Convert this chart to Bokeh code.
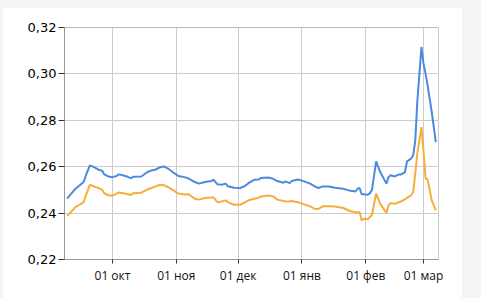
from datetime import datetime
import pandas as pd
from bokeh.plotting import figure
from bokeh.models import Range1d, FixedTicker, CustomJSTickFormatter, Span, ColumnDataSource
from bokeh.layouts import column
from bokeh.embed import file_html
from bokeh.resources import INLINE

dates = [
    "2022-09-09", "2022-09-11", "2022-09-13", "2022-09-15", "2022-09-17", "2022-09-18",
    "2022-09-20", "2022-09-22", "2022-09-24", "2022-09-26", "2022-09-27", "2022-09-29",
    "2022-10-01", "2022-10-03", "2022-10-04", "2022-10-06", "2022-10-08", "2022-10-10",
    "2022-10-11", "2022-10-15", "2022-10-18", "2022-10-20", "2022-10-22", "2022-10-24",
    "2022-10-26", "2022-10-28", "2022-10-31", "2022-11-02", "2022-11-05", "2022-11-07",
    "2022-11-10", "2022-11-12", "2022-11-15", "2022-11-18", "2022-11-19", "2022-11-21",
    "2022-11-23", "2022-11-25", "2022-11-26", "2022-11-29", "2022-12-02", "2022-12-04",
    "2022-12-06", "2022-12-09", "2022-12-11", "2022-12-12", "2022-12-16", "2022-12-18",
    "2022-12-20", "2022-12-23", "2022-12-24", "2022-12-26", "2022-12-27", "2022-12-30",
    "2023-01-01", "2023-01-05", "2023-01-07", "2023-01-09", "2023-01-11", "2023-01-14",
    "2023-01-17", "2023-01-21", "2023-01-24", "2023-01-27", "2023-01-28", "2023-01-29",
    "2023-01-30", "2023-01-31", "2023-02-02", "2023-02-03", "2023-02-04", "2023-02-06",
    "2023-02-08", "2023-02-11", "2023-02-12", "2023-02-13", "2023-02-15", "2023-02-17",
    "2023-02-18", "2023-02-20", "2023-02-21", "2023-02-23", "2023-02-24", "2023-02-25",
    "2023-02-26", "2023-02-28", "2023-03-01", "2023-03-02", "2023-03-03", "2023-03-05",
    "2023-03-07",
]

blue_values = [
    0.2462, 0.2484, 0.2505, 0.2519, 0.2534, 0.2560,
    0.2606, 0.2598, 0.2588, 0.2582, 0.2567, 0.2558,
    0.2555, 0.2560, 0.2567, 0.2563, 0.2558, 0.2550,
    0.2557, 0.2558, 0.2577, 0.2584, 0.2588, 0.2597,
    0.2601, 0.2592, 0.2572, 0.2560, 0.2555, 0.2549,
    0.2534, 0.2527, 0.2534, 0.2538, 0.2544, 0.2524,
    0.2522, 0.2527, 0.2516, 0.2509, 0.2508, 0.2515,
    0.2529, 0.2544, 0.2545, 0.2551, 0.2553, 0.2548,
    0.2538, 0.2531, 0.2537, 0.2529, 0.2538, 0.2545,
    0.2540, 0.2527, 0.2516, 0.2508, 0.2515, 0.2515,
    0.2509, 0.2505, 0.2497, 0.2493, 0.2505, 0.2508,
    0.2481, 0.2481, 0.2479, 0.2486, 0.2500, 0.2623,
    0.2577, 0.2527, 0.2555, 0.2563, 0.2558, 0.2566,
    0.2566, 0.2577, 0.2623, 0.2635, 0.2649, 0.2710,
    0.2880, 0.3116, 0.3045, 0.3001, 0.2951, 0.2836,
    0.2706,
]

orange_values = [
    0.2388, 0.2406, 0.2426, 0.2436, 0.2447, 0.2474,
    0.2522, 0.2515, 0.2508, 0.2501, 0.2486, 0.2477,
    0.2475, 0.2484, 0.2489, 0.2486, 0.2482, 0.2478,
    0.2486, 0.2488, 0.2502, 0.2508, 0.2515, 0.2522,
    0.2520, 0.2512, 0.2496, 0.2484, 0.2480, 0.2481,
    0.2462, 0.2458, 0.2465, 0.2467, 0.2468, 0.2447,
    0.2450, 0.2455, 0.2447, 0.2436, 0.2436, 0.2445,
    0.2455, 0.2462, 0.2466, 0.2472, 0.2476, 0.2472,
    0.2458, 0.2452, 0.2451, 0.2450, 0.2452, 0.2447,
    0.2441, 0.2429, 0.2419, 0.2418, 0.2429, 0.2429,
    0.2428, 0.2422, 0.2410, 0.2404, 0.2404, 0.2404,
    0.2368, 0.2376, 0.2374, 0.2383, 0.2392, 0.2484,
    0.2440, 0.2401, 0.2433, 0.2443, 0.2440, 0.2447,
    0.2450, 0.2459, 0.2466, 0.2476, 0.2491, 0.2570,
    0.2656, 0.2771, 0.2670, 0.2550, 0.2545, 0.2455,
    0.2412,
]

x_tick_dates = ["2022-10-01", "2022-11-01", "2022-12-01", "2023-01-01", "2023-02-01", "2023-03-01"]
x_tick_labels = ["01 окт", "01 ноя", "01 дек", "01 янв", "01 фев", "01 мар"]
y_ticks = [0.22, 0.24, 0.26, 0.28, 0.30, 0.32]
y_tick_labels = ["0,22", "0,24", "0,26", "0,28", "0,30", "0,32"]

x = pd.to_datetime(dates)
src = ColumnDataSource(dict(x=x, blue=blue_values, orange=orange_values))

p = figure(
    width=460, height=291,
    x_axis_type="datetime",
    x_range=Range1d(datetime(2022, 9, 7, 17), datetime(2023, 3, 8, 7)),
    y_range=Range1d(0.22, 0.32),
    output_backend="svg", toolbar_location=None,
    min_border_left=62, min_border_right=24, min_border_top=20, min_border_bottom=39,
    background_fill_color="white", border_fill_color="white",
    margin=(7, 19, 0, 2),
)

x_tick_ms = [int(pd.Timestamp(d).value // 10**6) for d in x_tick_dates]
p.xaxis.ticker = FixedTicker(ticks=x_tick_ms)
p.xaxis.formatter = CustomJSTickFormatter(
    args=dict(vals=x_tick_ms, labs=x_tick_labels),
    code="const i = vals.findIndex(v => Math.abs(v - tick) < 1000); return i >= 0 ? labs[i] : '';",
)
p.yaxis.ticker = FixedTicker(ticks=y_ticks)
p.yaxis.formatter = CustomJSTickFormatter(
    args=dict(vals=y_ticks, labs=y_tick_labels),
    code="const i = vals.findIndex(v => Math.abs(v - tick) < 1e-9); return i >= 0 ? labs[i] : '';",
)

p.xgrid.grid_line_color = "#cccccc"
p.ygrid.grid_line_color = "#cccccc"
p.outline_line_color = "#cccccc"

for ax in (p.xaxis[0], p.yaxis[0]):
    ax.axis_line_color = "#999999"
    ax.major_tick_line_color = "#333333"
    ax.minor_tick_line_color = None
    ax.major_tick_in = 0

p.yaxis.major_tick_out = 6
p.yaxis.major_label_standoff = 2
p.yaxis.major_label_text_font = "DejaVu Sans"
p.yaxis.major_label_text_font_size = "13px"
p.yaxis.major_label_text_color = "#000000"

p.xaxis.major_tick_out = 4
p.xaxis.major_label_standoff = 3
p.xaxis.major_label_text_font = "Open Sans"
p.xaxis.major_label_text_font_size = "12px"
p.xaxis.major_label_text_color = "#111111"

p.add_layout(Span(location=0.32, dimension="width", line_color="#aaaaaa", line_width=1))

p.line("x", "orange", source=src, line_color="#f5ae3c", line_width=2)
p.line("x", "blue", source=src, line_color="#4a8ae0", line_width=2)

layout = column(p, width=481, height=298, styles={"background-color": "#f3f4f6"})

open("out.html", "w").write(file_html(layout, INLINE))
